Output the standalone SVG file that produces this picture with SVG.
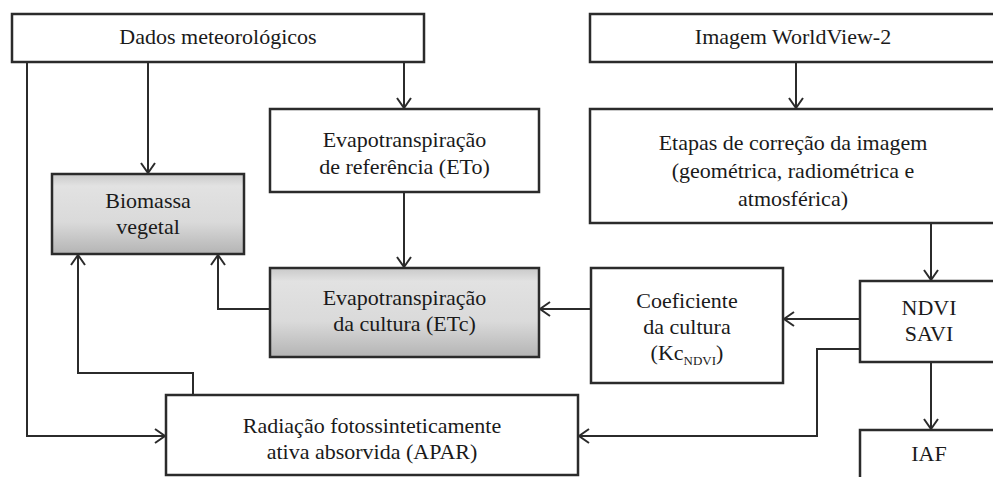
<svg xmlns="http://www.w3.org/2000/svg" width="993" height="477" viewBox="0 0 993 477">
<defs>
<style>
.box{fill:#ffffff;stroke:#2b2b2b;stroke-width:2.5}
.gray{fill:url(#g);stroke:#2b2b2b;stroke-width:2.5}
.t{font-family:'Liberation Serif','DejaVu Serif',serif;font-size:22px;fill:#1a1a1a;text-anchor:middle}
.c{fill:none;stroke:#2b2b2b;stroke-width:2;marker-end:url(#a)}
</style>
<linearGradient id="g" x1="0" y1="0" x2="0" y2="1">
<stop offset="0" stop-color="#c9c9c9"/>
<stop offset="0.15" stop-color="#e2e2e2"/>
<stop offset="0.6" stop-color="#dadada"/>
<stop offset="1" stop-color="#b4b4b4"/>
</linearGradient>
<marker id="a" markerUnits="userSpaceOnUse" markerWidth="20" markerHeight="20" viewBox="-12 -10 14 20" refX="0" refY="0" orient="auto">
<path d="M-10,-7 L0,0 L-10,7" fill="none" stroke="#2b2b2b" stroke-width="2"/>
</marker>
</defs>
<rect width="993" height="477" fill="#ffffff"/>

<g id="connectors">
<path class="c" d="M148,63 V173"/>
<path class="c" d="M404,63 V108"/>
<path class="c" d="M27,63 V436 H165"/>
<path class="c" d="M404,192 V267"/>
<path class="c" d="M270,309 H218 V255"/>
<path class="c" d="M193,395 V373 H78 V255"/>
<path class="c" d="M796,62 V108"/>
<path class="c" d="M931,223 V280"/>
<path class="c" d="M860,319 H784"/>
<path class="c" d="M591,309 H540"/>
<path class="c" d="M860,349 H817 V436 H579"/>
<path class="c" d="M931,362 V429"/>
</g>

<g font-family="Liberation Serif, DejaVu Serif, serif">
<g id="dados">
<rect class="box" x="12" y="14" width="412" height="48"/>
<text class="t" x="218" y="44">Dados meteorológicos</text>
</g>

<g id="imagem">
<rect class="box" x="590" y="14" width="410" height="48"/>
<text class="t" x="793" y="44">Imagem WorldView-2</text>
</g>

<g id="eto">
<rect class="box" x="270" y="109" width="269" height="83"/>
<text class="t" x="404.5" y="147">Evapotranspiração</text>
<text class="t" x="404.5" y="174">de referência (ETo)</text>
</g>

<g id="etapas">
<rect class="box" x="590" y="109" width="410" height="114"/>
<text class="t" x="793" y="150">Etapas de correção da imagem</text>
<text class="t" x="793" y="178">(geométrica, radiométrica e</text>
<text class="t" x="793" y="206">atmosférica)</text>
</g>

<g id="biomassa">
<rect class="gray" x="52" y="174" width="192" height="80"/>
<text class="t" x="148" y="208">Biomassa</text>
<text class="t" x="148" y="234">vegetal</text>
</g>

<g id="etc">
<rect class="gray" x="270" y="268" width="269" height="89"/>
<text class="t" x="404.5" y="305">Evapotranspiração</text>
<text class="t" x="404.5" y="331">da cultura (ETc)</text>
</g>

<g id="coeficiente">
<rect class="box" x="591" y="268" width="192" height="115"/>
<text class="t" x="687" y="308">Coeficiente</text>
<text class="t" x="687" y="334">da cultura</text>
<text class="t" x="687" y="360">(Kc<tspan font-size="13" dy="5">NDVI</tspan><tspan dy="-5">)</tspan></text>
</g>

<g id="ndvi">
<rect class="box" x="860" y="281" width="140" height="81"/>
<text class="t" x="929" y="315">NDVI</text>
<text class="t" x="929" y="341">SAVI</text>
</g>

<g id="iaf">
<rect class="box" x="860" y="430" width="140" height="60"/>
<text class="t" x="929" y="461">IAF</text>
</g>

<g id="apar">
<rect class="box" x="166" y="395" width="412" height="80"/>
<text class="t" x="372" y="433">Radiação fotossinteticamente</text>
<text class="t" x="372" y="459">ativa absorvida (APAR)</text>
</g>
</g>
</svg>
